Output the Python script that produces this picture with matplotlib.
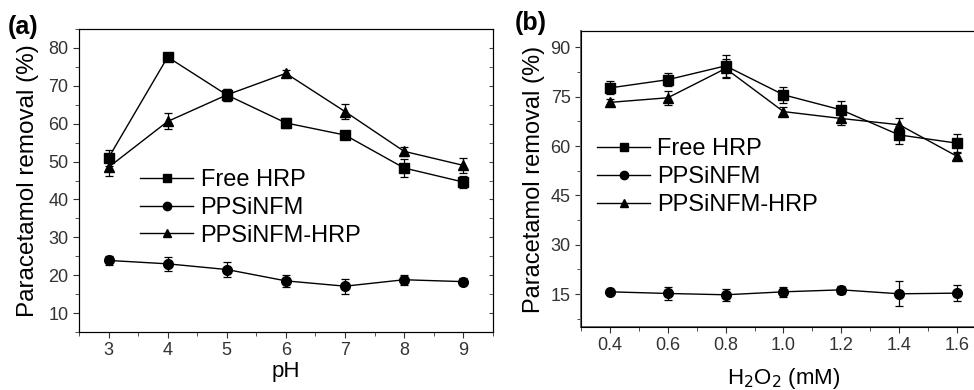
import matplotlib.pyplot as plt
from matplotlib.lines import Line2D
from matplotlib.ticker import MultipleLocator

plt.rcParams['font.family'] = ['Liberation Sans', 'DejaVu Sans']

# panel (a): pH
ph = [3, 4, 5, 6, 7, 8, 9]
free_a = [51.0, 77.6, 67.6, 60.2, 57.0, 48.3, 44.6]
free_a_err = [2.1, 0.8, 1.5, 1.3, 1.0, 2.3, 1.5]
nfm_a = [23.9, 23.0, 21.5, 18.5, 17.1, 18.8, 18.3]
nfm_a_err = [1.2, 1.8, 2.0, 1.6, 2.0, 1.3, 1.0]
hrp_a = [48.5, 60.6, 67.6, 73.3, 63.2, 52.7, 49.0]
hrp_a_err = [2.2, 2.1, 1.5, 0.9, 2.0, 1.2, 2.0]

# panel (b): H2O2
h2o2 = [0.4, 0.6, 0.8, 1.0, 1.2, 1.4, 1.6]
free_b = [77.7, 80.2, 84.4, 75.6, 71.0, 63.4, 60.9]
free_b_err = [2.0, 2.0, 3.4, 2.5, 2.7, 2.8, 2.8]
nfm_b = [15.7, 15.2, 14.8, 15.7, 16.3, 15.1, 15.3]
nfm_b_err = [0.8, 2.0, 1.8, 1.5, 1.2, 3.8, 2.5]
hrp_b = [73.3, 74.7, 83.6, 70.5, 68.4, 66.5, 56.9]
hrp_b_err = [1.0, 2.2, 3.0, 1.3, 2.0, 2.0, 1.0]

labels = ['Free HRP', 'PPSiNFM', 'PPSiNFM-HRP']
markers = ['s', 'o', '^']

fig = plt.figure(figsize=(9.74, 3.9), dpi=100)
ax1 = fig.add_axes([0.0811, 0.1487, 0.4249, 0.7769])
ax2 = fig.add_axes([0.5965, 0.1615, 0.4158, 0.7590])


def draw(ax, x, series, errs, anchor):
    for y, e, m in zip(series, errs, markers):
        ax.errorbar(x, y, yerr=e, color='k', marker=m, ms=7, lw=1,
                    elinewidth=0.9, capsize=3, capthick=0.9)
    ax.tick_params(which='both', direction='out', labelsize=13,
                   colors='#333333', labelcolor='#333333')
    ax.tick_params(which='major', length=4)
    ax.tick_params(which='minor', length=3)
    # mirror ticks on the right side pointing inwards
    tw = ax.twinx()
    tw.set_ylim(ax.get_ylim())
    tw.yaxis.set_major_locator(ax.yaxis.get_major_locator())
    tw.yaxis.set_minor_locator(ax.yaxis.get_minor_locator())
    tw.tick_params(which='both', direction='in', length=3, labelright=False,
                   colors='#444444')
    handles = [Line2D([], [], color='k', marker=m, ms=6, lw=1) for m in markers]
    ax.legend(handles, labels, fontsize=17, frameon=False, loc='upper left',
              bbox_to_anchor=anchor, handlelength=2.25, handletextpad=0.3,
              labelspacing=0.25, borderaxespad=0.2)


ax1.set_xlim(2.5, 9.5)
ax1.set_ylim(5, 85)
ax1.xaxis.set_major_locator(MultipleLocator(1))
ax1.xaxis.set_minor_locator(MultipleLocator(0.5))
ax1.yaxis.set_major_locator(MultipleLocator(10))
ax1.yaxis.set_minor_locator(MultipleLocator(5))
draw(ax1, ph, [free_a, nfm_a, hrp_a], [free_a_err, nfm_a_err, hrp_a_err],
     (0.114, 0.585))
ax1.set_xlabel('pH', fontsize=16, labelpad=1)
ax1.set_ylabel('Paracetamol removal (%)', fontsize=17.5, labelpad=7)

ax2.set_xlim(0.3, 1.7)
ax2.set_ylim(5, 95)
ax2.xaxis.set_major_locator(MultipleLocator(0.2))
ax2.xaxis.set_minor_locator(MultipleLocator(0.1))
ax2.yaxis.set_major_locator(MultipleLocator(15))
ax2.yaxis.set_minor_locator(MultipleLocator(7.5))
draw(ax2, h2o2, [free_b, nfm_b, hrp_b], [free_b_err, nfm_b_err, hrp_b_err],
     (0.005, 0.685))
ax2.xaxis.set_major_formatter(plt.FormatStrFormatter('%.1f'))
ax2.set_xlabel('H$_2$O$_2$ (mM)', fontsize=16, labelpad=8)
ax2.set_ylabel('Paracetamol removal (%)', fontsize=17, labelpad=4)
for s in ['left', 'bottom']:
    ax2.spines[s].set_color('#666666')
    ax2.spines[s].set_linewidth(1.4)

fig.text(0.008, 0.912, '(a)', fontsize=18, fontweight='bold')
fig.text(0.529, 0.922, '(b)', fontsize=18, fontweight='bold')

fig.savefig('out.png', dpi=100)
